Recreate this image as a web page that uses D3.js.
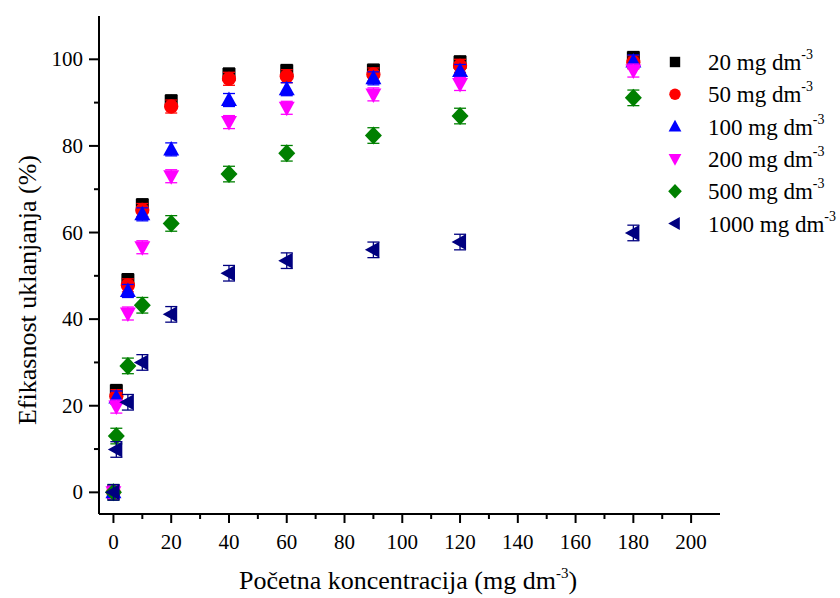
<!DOCTYPE html>
<html><head><meta charset="utf-8">
<script src="https://cdn.jsdelivr.net/npm/d3@7"></script>
<style>body{margin:0;background:#fff}svg{display:block}text{font-family:"Liberation Serif","Times New Roman",serif}</style>
</head><body><svg id="c" width="840" height="598"></svg>
<script>
const times = [0, 1, 5, 10, 20, 40, 60, 90, 120, 180];
const seriesNames = ["20", "50", "100", "200", "500", "1000"];
const s20   = [0, 23.4, 49.0, 66.3, 90.3, 96.5, 97.3, 97.4, 99.3, 100.3];
const s50   = [0, 22.2, 47.8, 65.2, 89.1, 95.5, 96.1, 96.5, 98.5, 99.3];
const s100  = [0, 21.9, 46.5, 64.2, 79.2, 90.6, 93.1, 95.6, 97.3, 99.5];
const s200  = [0, 19.8, 41.3, 56.6, 73.0, 85.5, 88.8, 91.9, 94.3, 97.4];
const s500  = [0, 13.0, 29.2, 43.2, 62.1, 73.5, 78.3, 82.4, 86.9, 91.1];
const s1000 = [0, 9.9, 20.8, 30.0, 41.1, 50.6, 53.5, 56.0, 57.8, 59.9];
const errs  = [1.5, 1.5, 1.5, 1.5, 1.8, 1.8];
const xTicks = [0, 20, 40, 60, 80, 100, 120, 140, 160, 180, 200];
const yTicks = [0, 20, 40, 60, 80, 100];
const xLabel = "Početna koncentracija (mg dm";
const yLabel = "Efikasnost uklanjanja (%)";

const colors = ["#000000", "#ff0000", "#0000ff", "#ff00ff", "#008000", "#000080"];
const shapes = ["square", "circle", "up", "down", "diamond", "left"];
const allSeries = [s20, s50, s100, s200, s500, s1000];

const svg = d3.select("#c");
const L = 99, R = 720, T = 16, B = 514;
const x = d3.scaleLinear().domain([-5, 210]).range([L, R]);
const y = d3.scaleLinear().domain([-5, 110]).range([B, T]);

function shapePath(s) {
  switch (s) {
    case "square": return "M-6.5,-6.5H6.5V6.5H-6.5Z";
    case "circle": return d3.symbol(d3.symbolCircle, 160)();
    case "up": return "M0,-8.5L8,6L-8,6Z";
    case "down": return "M0,8.5L8,-6L-8,-6Z";
    case "diamond": return "M0,-9L8.5,0L0,9L-8.5,0Z";
    case "left": return "M-8.5,0L6,-8L6,8Z";
  }
}

// x axis
const gx = svg.append("g").attr("transform", `translate(0,${B})`);
gx.append("line").attr("x1", L).attr("x2", R).attr("stroke", "#000").attr("stroke-width", 2);
gx.selectAll("line.tk").data(d3.range(0, 201, 10)).join("line").attr("class", "tk")
  .attr("x1", d => x(d)).attr("x2", d => x(d)).attr("y1", 0).attr("y2", d => d % 20 === 0 ? 9 : 5)
  .attr("stroke", "#000").attr("stroke-width", 2);
gx.selectAll("text.t").data(xTicks).join("text").attr("class", "t")
  .attr("x", d => x(d)).attr("y", 35).attr("text-anchor", "middle")
  .attr("font-size", 21).text(d => d);

// y axis
const gy = svg.append("g").attr("transform", `translate(${L},0)`);
gy.append("line").attr("y1", T).attr("y2", B).attr("stroke", "#000").attr("stroke-width", 2);
gy.selectAll("line.tk").data(d3.range(0, 101, 10)).join("line").attr("class", "tk")
  .attr("y1", d => y(d)).attr("y2", d => y(d)).attr("x1", 0).attr("x2", d => d % 20 === 0 ? -10 : -5)
  .attr("stroke", "#000").attr("stroke-width", 2);
gy.selectAll("text.t").data(yTicks).join("text").attr("class", "t")
  .attr("x", -16).attr("y", d => y(d) + 7).attr("text-anchor", "end")
  .attr("font-size", 21).text(d => d);

// axis titles
const xt = svg.append("text").attr("x", 408).attr("y", 589).attr("text-anchor", "middle").attr("font-size", 26);
xt.append("tspan").text(xLabel);
xt.append("tspan").attr("font-size", 15).attr("dy", -11).text("-3");
xt.append("tspan").attr("dy", 11).text(")");

svg.append("text").attr("transform", "translate(36,290) rotate(-90)").attr("text-anchor", "middle")
  .attr("font-size", 26).text(yLabel);

// data
allSeries.forEach((vals, i) => {
  const g = svg.append("g");
  const pts = times.map((t, j) => ({t, v: vals[j]}));
  const e = errs[i];
  pts.forEach(p => {
    const cx = x(p.t);
    const yt = y(p.v + e), yb = y(p.v - e);
    g.append("line").attr("x1", cx).attr("x2", cx).attr("y1", yt).attr("y2", yb).attr("stroke", colors[i]).attr("stroke-width", 1.3);
    g.append("line").attr("x1", cx - 6).attr("x2", cx + 6).attr("y1", yt).attr("y2", yt).attr("stroke", colors[i]).attr("stroke-width", 1.3);
    g.append("line").attr("x1", cx - 6).attr("x2", cx + 6).attr("y1", yb).attr("y2", yb).attr("stroke", colors[i]).attr("stroke-width", 1.3);
  });
  g.selectAll("path").data(pts).join("path")
    .attr("transform", p => `translate(${x(p.t)},${y(p.v)})`)
    .attr("d", shapePath(shapes[i])).attr("fill", colors[i]);
});

// legend
const lg = svg.append("g");
seriesNames.forEach((n, i) => {
  const yy = 62 + i * 32.3;
  lg.append("path").attr("d", shapePath(shapes[i]))
    .attr("fill", colors[i]).attr("transform", `translate(675,${yy}) scale(0.8)`);
  const t = lg.append("text").attr("x", 708).attr("y", yy + 8).attr("font-size", 23);
  t.append("tspan").text(n + " mg dm");
  t.append("tspan").attr("font-size", 14).attr("dy", -11).text("-3");
});
</script></body></html>
